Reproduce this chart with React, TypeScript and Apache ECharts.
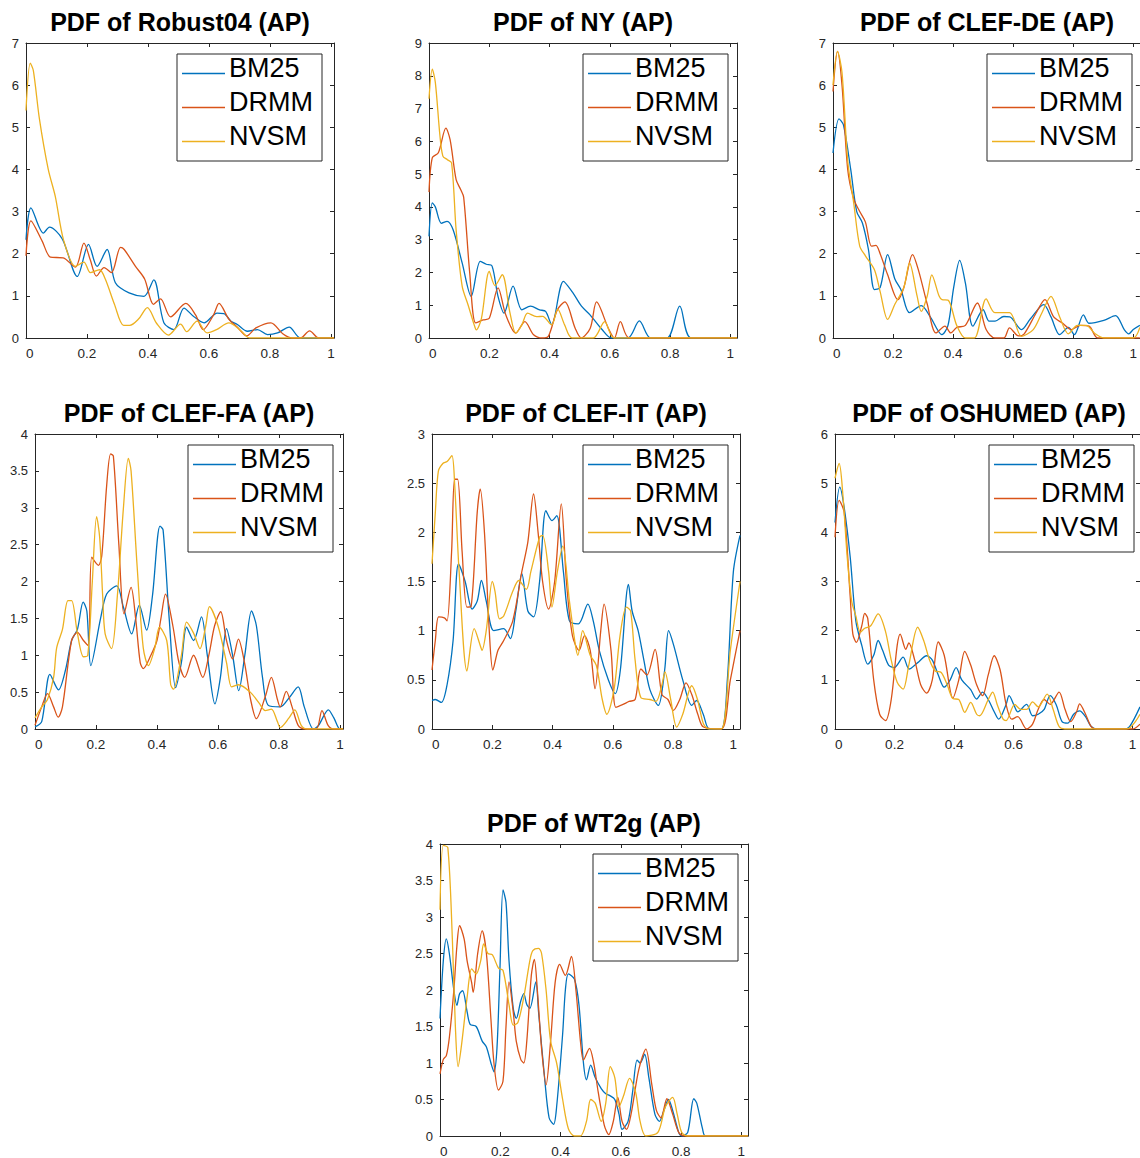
import React, { useEffect, useRef } from "react";
import * as echarts from "echarts";

type Pt = [number, number];

const seriesNames = ["BM25", "DRMM", "NVSM"];
const seriesColors = ["#0072BD", "#D95319", "#EDB120"];
const xTicks = [0, 0.2, 0.4, 0.6, 0.8, 1];

const titles = [
  "PDF of Robust04 (AP)",
  "PDF of NY (AP)",
  "PDF of CLEF-DE (AP)",
  "PDF of CLEF-FA (AP)",
  "PDF of CLEF-IT (AP)",
  "PDF of OSHUMED (AP)",
  "PDF of WT2g (AP)",
];
const xMaxes = [1.01, 1.022, 1.022, 1.01, 1.022, 1.025, 1.022];
const yMaxes = [7, 9, 7, 4, 3, 6, 4];
const yIntervals = [1, 1, 1, 0.5, 0.5, 1, 0.5];

// ---- Robust04
const robust04BM25: Pt[] = [[0,2.33],[0.016,3.09],[0.057,2.49],[0.077,2.63],[0.119,2.35],[0.168,1.46],[0.205,2.22],[0.233,1.7],[0.266,2.1],[0.293,1.31],[0.338,1.07],[0.387,0.99],[0.419,1.38],[0.452,0.36],[0.485,0.2],[0.518,0.71],[0.55,0.51],[0.584,0.36],[0.627,0.59],[0.649,0.58],[0.672,0.4],[0.693,0.32],[0.726,0.16],[0.759,0.2],[0.792,0.08],[0.825,0.12],[0.863,0.26],[0.9,0],[1.01,0]];
const robust04DRMM: Pt[] = [[0,1.95],[0.016,2.78],[0.053,2.3],[0.08,1.92],[0.122,1.9],[0.162,1.68],[0.19,2.25],[0.211,1.85],[0.231,1.47],[0.256,1.67],[0.28,1.55],[0.31,2.15],[0.322,2.1],[0.359,1.7],[0.389,1.4],[0.418,0.8],[0.441,0.93],[0.474,0.5],[0.524,0.82],[0.556,0.55],[0.581,0.2],[0.615,0.55],[0.633,0.82],[0.665,0.45],[0.694,0.25],[0.724,0.05],[0.754,0.24],[0.803,0.36],[0.842,0.1],[0.872,0],[0.9,0],[0.93,0.17],[0.96,0],[1.01,0]];
const robust04NVSM: Pt[] = [[0,5.4],[0.014,6.52],[0.024,6.35],[0.044,5.2],[0.073,4.0],[0.096,3.36],[0.123,2.33],[0.162,1.7],[0.19,1.8],[0.211,1.55],[0.241,1.62],[0.26,1.4],[0.29,0.8],[0.32,0.3],[0.34,0.3],[0.369,0.45],[0.398,0.72],[0.428,0.35],[0.467,0.07],[0.507,0.33],[0.527,0.15],[0.561,0.4],[0.594,0.12],[0.625,0.2],[0.665,0.36],[0.704,0.18],[0.734,0],[1.01,0]];

// ---- NY
const nyBM25: Pt[] = [[0,3.1],[0.011,4.12],[0.021,4.0],[0.041,3.5],[0.06,3.56],[0.08,3.3],[0.11,2.29],[0.14,1.27],[0.17,2.34],[0.19,2.25],[0.209,2.2],[0.229,1.27],[0.249,0.76],[0.279,1.58],[0.308,0.86],[0.337,0.97],[0.367,0.86],[0.387,0.81],[0.407,0.41],[0.446,1.73],[0.476,1.4],[0.506,0.97],[0.535,0.7],[0.575,0.25],[0.605,0],[0.66,0],[0.698,0.52],[0.735,0],[0.79,0],[0.832,0.97],[0.87,0],[1.022,0]];
const nyDRMM: Pt[] = [[0,4.45],[0.011,5.5],[0.031,5.65],[0.056,6.4],[0.07,6.05],[0.09,4.83],[0.105,4.53],[0.115,4.3],[0.135,2.0],[0.155,0.46],[0.18,0.55],[0.2,0.6],[0.229,1.53],[0.255,0.7],[0.288,0.15],[0.318,0.5],[0.347,0.1],[0.376,0],[0.396,0.05],[0.426,0.86],[0.451,1.1],[0.485,0.3],[0.505,0],[0.535,0.3],[0.556,1.1],[0.595,0.3],[0.615,0],[0.635,0.5],[0.665,0],[1.022,0]];
const nyNVSM: Pt[] = [[0,7.3],[0.011,8.2],[0.021,7.8],[0.036,6.2],[0.046,5.55],[0.061,5.44],[0.075,5.34],[0.09,3.3],[0.11,1.58],[0.13,1.0],[0.15,0.4],[0.157,0.25],[0.174,0.6],[0.2,2.03],[0.219,1.6],[0.243,1.93],[0.268,0.8],[0.288,0.15],[0.308,0.4],[0.327,0.76],[0.357,0.65],[0.377,0.66],[0.407,0.4],[0.427,0.88],[0.45,0.4],[0.475,0],[0.545,0],[0.583,0.5],[0.615,0],[1.022,0]];

// ---- CLEF-DE
const clefDeBM25: Pt[] = [[0,4.39],[0.02,5.2],[0.035,5.05],[0.059,4.0],[0.079,3.0],[0.098,2.73],[0.118,2.1],[0.138,1.15],[0.157,1.2],[0.182,1.98],[0.206,1.4],[0.226,1.15],[0.255,0.6],[0.294,0.77],[0.324,0.5],[0.363,0.08],[0.383,0.3],[0.402,1.2],[0.422,1.84],[0.441,1.3],[0.466,0.28],[0.5,0.67],[0.52,0.4],[0.54,0.4],[0.569,0.51],[0.589,0.5],[0.628,0.2],[0.657,0.45],[0.702,0.79],[0.726,0.5],[0.755,0.08],[0.784,0.25],[0.804,0.08],[0.834,0.55],[0.853,0.35],[0.902,0.42],[0.941,0.53],[0.97,0.2],[0.985,0.1],[1.0,0.2],[1.022,0.3]];
const clefDeDRMM: Pt[] = [[0,5.85],[0.015,6.8],[0.03,6.0],[0.049,4.0],[0.069,3.3],[0.089,3.0],[0.108,2.75],[0.128,2.18],[0.143,2.2],[0.157,2.0],[0.182,1.5],[0.216,0.91],[0.236,1.2],[0.265,1.98],[0.285,1.6],[0.314,0.8],[0.343,0.12],[0.373,0.28],[0.392,0.12],[0.412,0.25],[0.441,0.3],[0.481,0.83],[0.51,0.2],[0.539,0],[0.569,0],[0.588,0.24],[0.618,0.05],[0.637,0.1],[0.677,0.6],[0.706,0.91],[0.735,0.5],[0.765,0.35],[0.794,0.2],[0.824,0.3],[0.853,0.28],[0.882,0],[1.022,0]];
const clefDeNVSM: Pt[] = [[0,6.0],[0.015,6.8],[0.03,6.3],[0.049,4.2],[0.069,3.2],[0.089,2.18],[0.108,1.95],[0.138,1.62],[0.157,1.1],[0.182,0.44],[0.206,0.8],[0.236,1.2],[0.255,1.78],[0.28,1.0],[0.294,0.63],[0.314,1.0],[0.329,1.5],[0.353,1.0],[0.363,0.91],[0.383,0.9],[0.412,0.3],[0.441,0],[0.471,0],[0.51,0.93],[0.539,0.6],[0.588,0.6],[0.628,0.04],[0.667,0.2],[0.696,0.6],[0.726,0.99],[0.755,0.5],[0.784,0.1],[0.814,0.3],[0.843,0.3],[0.873,0.1],[0.902,0],[1.0,0],[1.022,0.25]];

// ---- CLEF-FA
const clefFaBM25: Pt[] = [[0,0.03],[0.022,0.1],[0.049,0.74],[0.077,0.53],[0.1,0.8],[0.12,1.2],[0.139,1.35],[0.158,1.72],[0.17,1.6],[0.183,0.86],[0.215,1.5],[0.235,1.83],[0.268,1.94],[0.29,1.65],[0.317,1.29],[0.342,1.68],[0.366,1.34],[0.385,1.8],[0.41,2.75],[0.42,2.7],[0.44,1.5],[0.461,0.56],[0.48,0.9],[0.497,1.38],[0.52,1.2],[0.546,1.52],[0.565,1.0],[0.59,0.34],[0.608,0.7],[0.628,1.36],[0.648,1.0],[0.668,0.52],[0.688,1.0],[0.71,1.6],[0.726,1.4],[0.746,0.7],[0.765,0.32],[0.804,0.3],[0.833,0.42],[0.863,0.57],[0.883,0.3],[0.913,0],[0.93,0.05],[0.962,0.26],[0.98,0.15],[1.0,0],[1.01,0]];
const clefFaDRMM: Pt[] = [[0,0.05],[0.022,0.3],[0.041,0.48],[0.061,0.3],[0.076,0.16],[0.09,0.3],[0.12,1.2],[0.139,1.31],[0.159,1.2],[0.175,1.13],[0.186,2.33],[0.208,2.22],[0.219,2.35],[0.235,3.3],[0.248,3.73],[0.257,3.7],[0.275,2.5],[0.292,1.56],[0.315,1.92],[0.33,1.5],[0.345,0.9],[0.355,0.82],[0.38,1.0],[0.4,1.2],[0.413,1.5],[0.428,1.83],[0.452,1.4],[0.472,0.9],[0.491,0.7],[0.52,1.0],[0.55,0.7],[0.57,1.0],[0.589,1.4],[0.609,1.59],[0.628,1.2],[0.648,0.95],[0.667,1.22],[0.687,0.9],[0.707,0.4],[0.726,0.14],[0.756,0.45],[0.775,0.7],[0.795,0.4],[0.804,0.3],[0.824,0.51],[0.843,0.3],[0.863,0.05],[0.883,0],[0.922,0],[0.941,0.25],[0.961,0.05],[0.98,0],[1.01,0]];
const clefFaNVSM: Pt[] = [[0,0.15],[0.022,0.3],[0.041,0.4],[0.061,0.7],[0.071,1.1],[0.09,1.35],[0.108,1.74],[0.12,1.74],[0.139,1.3],[0.159,0.98],[0.173,1.0],[0.188,2.0],[0.202,2.88],[0.212,2.6],[0.222,1.8],[0.23,1.29],[0.251,1.09],[0.27,1.8],[0.29,3.0],[0.306,3.67],[0.315,3.5],[0.335,2.2],[0.355,1.1],[0.372,0.86],[0.393,1.1],[0.408,1.38],[0.432,1.2],[0.445,0.6],[0.454,0.54],[0.48,1.0],[0.497,1.45],[0.52,1.3],[0.541,1.09],[0.56,1.4],[0.572,1.66],[0.6,1.4],[0.628,0.9],[0.645,0.57],[0.667,0.6],[0.706,0.5],[0.735,0.35],[0.755,0.25],[0.775,0.27],[0.795,0.1],[0.804,0.02],[0.833,0.15],[0.852,0.26],[0.873,0.05],[0.892,0],[1.01,0]];

// ---- CLEF-IT
const clefItBM25: Pt[] = [[0,0.29],[0.011,0.3],[0.031,0.27],[0.05,0.45],[0.07,0.9],[0.088,1.68],[0.11,1.5],[0.133,1.22],[0.15,1.3],[0.164,1.51],[0.18,1.3],[0.205,1.0],[0.238,1.02],[0.26,0.92],[0.278,1.2],[0.298,1.58],[0.318,1.2],[0.337,1.14],[0.357,1.5],[0.378,2.22],[0.398,2.12],[0.414,2.17],[0.436,1.6],[0.456,1.1],[0.486,1.07],[0.517,1.27],[0.535,1.1],[0.555,0.8],[0.585,0.5],[0.608,0.36],[0.625,0.6],[0.652,1.47],[0.664,1.2],[0.684,1.0],[0.703,0.7],[0.723,0.4],[0.751,0.24],[0.772,0.6],[0.785,1.0],[0.802,0.85],[0.832,0.5],[0.862,0.24],[0.878,0.29],[0.9,0.15],[0.92,0],[0.96,0],[0.98,0.5],[1.0,1.6],[1.022,1.97]];
const clefItDRMM: Pt[] = [[0,0.6],[0.011,0.9],[0.022,1.14],[0.041,1.13],[0.05,1.1],[0.065,1.8],[0.075,2.54],[0.085,2.54],[0.1,1.8],[0.116,1.24],[0.13,1.25],[0.15,2.2],[0.16,2.44],[0.174,2.0],[0.19,1.0],[0.202,0.6],[0.219,0.8],[0.238,0.9],[0.268,1.1],[0.298,1.6],[0.318,1.9],[0.337,2.39],[0.352,2.0],[0.367,1.5],[0.387,1.22],[0.407,1.5],[0.429,2.29],[0.446,1.5],[0.466,0.95],[0.488,0.8],[0.506,0.95],[0.525,0.8],[0.541,0.41],[0.56,1.0],[0.571,1.27],[0.594,0.8],[0.61,0.22],[0.634,0.25],[0.654,0.28],[0.674,0.3],[0.693,0.61],[0.713,0.55],[0.74,0.81],[0.763,0.35],[0.783,0.3],[0.801,0.19],[0.822,0.3],[0.843,0.47],[0.862,0.35],[0.882,0.15],[0.901,0.02],[0.96,0],[0.99,0.5],[1.022,1.0]];
const clefItNVSM: Pt[] = [[0,1.68],[0.011,2.2],[0.021,2.62],[0.036,2.7],[0.05,2.72],[0.066,2.78],[0.075,2.5],[0.09,1.6],[0.116,0.59],[0.14,1.02],[0.16,0.85],[0.166,0.8],[0.18,1.0],[0.2,1.5],[0.209,1.4],[0.224,1.12],[0.238,1.15],[0.268,1.4],[0.288,1.51],[0.313,1.42],[0.328,1.6],[0.357,1.95],[0.367,1.97],[0.387,1.6],[0.398,1.24],[0.416,1.6],[0.434,1.86],[0.456,1.3],[0.476,0.85],[0.484,0.75],[0.5,1.0],[0.525,0.75],[0.545,0.65],[0.565,0.3],[0.58,0.15],[0.604,0.4],[0.624,0.95],[0.645,1.24],[0.659,1.2],[0.674,0.7],[0.693,0.32],[0.723,0.3],[0.743,0.28],[0.763,0.45],[0.773,0.58],[0.792,0.3],[0.812,0.02],[0.832,0.15],[0.862,0.44],[0.881,0.3],[0.901,0.05],[0.92,0],[0.96,0],[0.99,0.8],[1.022,1.5]];

// ---- OSHUMED
const oshumedBM25: Pt[] = [[0,4.2],[0.016,4.92],[0.031,4.5],[0.051,3.5],[0.07,2.2],[0.09,1.7],[0.11,1.32],[0.13,1.5],[0.145,1.8],[0.16,1.6],[0.18,1.3],[0.199,1.25],[0.229,1.46],[0.249,1.22],[0.278,1.35],[0.308,1.49],[0.327,1.4],[0.347,1.1],[0.367,0.85],[0.387,1.0],[0.407,1.25],[0.426,1.0],[0.456,0.8],[0.476,0.61],[0.496,0.75],[0.515,0.6],[0.535,0.35],[0.55,0.2],[0.575,0.5],[0.585,0.68],[0.604,0.45],[0.614,0.35],[0.644,0.5],[0.664,0.27],[0.683,0.3],[0.703,0.4],[0.723,0.68],[0.743,0.5],[0.763,0.15],[0.782,0.12],[0.802,0.3],[0.822,0.37],[0.842,0.25],[0.861,0.05],[0.881,0],[0.97,0],[0.99,0.05],[1.025,0.45]];
const oshumedDRMM: Pt[] = [[0,3.9],[0.014,4.65],[0.031,4.4],[0.051,2.7],[0.06,1.93],[0.072,1.76],[0.09,2.1],[0.1,2.35],[0.11,2.25],[0.13,1.0],[0.15,0.3],[0.17,0.17],[0.189,0.6],[0.209,1.7],[0.219,1.93],[0.238,1.62],[0.248,1.75],[0.268,1.4],[0.288,0.9],[0.308,0.73],[0.327,1.0],[0.347,1.77],[0.367,1.5],[0.396,0.63],[0.416,1.0],[0.436,1.58],[0.456,1.3],[0.476,0.9],[0.496,0.68],[0.515,1.1],[0.535,1.49],[0.555,1.2],[0.575,0.5],[0.594,0.2],[0.614,0.25],[0.644,0],[0.664,0.1],[0.683,0.4],[0.703,0.6],[0.723,0.5],[0.753,0.75],[0.773,0.4],[0.792,0.15],[0.812,0.35],[0.822,0.51],[0.842,0.3],[0.861,0.05],[0.881,0],[1.0,0],[1.025,0.1]];
const oshumedNVSM: Pt[] = [[0,5.1],[0.014,5.4],[0.026,4.8],[0.041,3.5],[0.056,2.6],[0.07,2.3],[0.085,1.97],[0.1,2.05],[0.12,2.1],[0.145,2.34],[0.169,2.0],[0.189,1.4],[0.209,0.95],[0.229,0.81],[0.248,1.3],[0.278,2.07],[0.298,1.8],[0.318,1.4],[0.337,1.18],[0.357,1.15],[0.377,0.9],[0.396,0.62],[0.416,0.6],[0.436,0.34],[0.456,0.54],[0.476,0.3],[0.486,0.27],[0.515,0.6],[0.53,0.75],[0.545,0.5],[0.565,0.2],[0.575,0.17],[0.604,0.5],[0.624,0.4],[0.644,0.4],[0.664,0.55],[0.683,0.45],[0.713,0.71],[0.733,0.4],[0.753,0.05],[0.772,0],[0.98,0],[1.025,0.3]];

// ---- WT2g
const wt2gBM25: Pt[] = [[0,1.61],[0.011,2.4],[0.021,2.7],[0.031,2.5],[0.046,2.0],[0.056,1.79],[0.065,1.95],[0.075,1.99],[0.09,1.7],[0.1,1.53],[0.12,1.5],[0.14,1.3],[0.154,1.22],[0.169,1.0],[0.179,0.88],[0.189,1.2],[0.199,2.3],[0.209,3.37],[0.219,3.2],[0.229,2.4],[0.243,1.75],[0.253,1.61],[0.268,1.85],[0.278,1.95],[0.288,1.8],[0.298,1.75],[0.318,2.11],[0.327,1.7],[0.347,0.8],[0.362,0.25],[0.377,0.16],[0.387,0.4],[0.407,1.4],[0.416,2.0],[0.426,2.22],[0.446,2.15],[0.461,1.8],[0.476,1.0],[0.486,0.77],[0.5,0.97],[0.515,0.8],[0.535,0.65],[0.55,0.58],[0.565,0.55],[0.58,0.5],[0.594,0.3],[0.604,0.09],[0.624,0.2],[0.639,0.6],[0.654,1.04],[0.664,1.0],[0.679,1.12],[0.693,0.8],[0.713,0.3],[0.728,0.2],[0.743,0.35],[0.758,0.5],[0.772,0.35],[0.792,0.05],[0.802,0],[0.822,0.05],[0.842,0.51],[0.852,0.45],[0.871,0.1],[0.881,0],[1.022,0]];
const wt2gDRMM: Pt[] = [[0,0.85],[0.011,1.05],[0.021,1.1],[0.031,1.35],[0.046,2.0],[0.056,2.6],[0.065,2.88],[0.08,2.7],[0.09,2.4],[0.105,2.1],[0.11,1.97],[0.125,2.5],[0.14,2.81],[0.154,2.5],[0.169,1.6],[0.179,1.0],[0.194,0.63],[0.209,0.75],[0.219,1.5],[0.229,2.11],[0.243,1.7],[0.253,1.3],[0.268,1.05],[0.278,1.0],[0.288,1.3],[0.303,2.2],[0.313,2.42],[0.323,2.0],[0.337,1.2],[0.352,0.7],[0.367,1.3],[0.382,2.1],[0.397,2.35],[0.416,2.2],[0.436,2.46],[0.451,2.0],[0.466,1.3],[0.476,1.04],[0.496,1.2],[0.51,1.0],[0.525,0.6],[0.545,0.15],[0.56,0.02],[0.575,0.2],[0.59,0.53],[0.604,0.2],[0.619,0.09],[0.634,0.3],[0.659,0.9],[0.683,1.19],[0.703,0.7],[0.718,0.35],[0.733,0.25],[0.753,0.51],[0.772,0.3],[0.792,0.05],[0.812,0],[1.022,0]];
const wt2gNVSM: Pt[] = [[0,3.1],[0.011,3.98],[0.026,3.95],[0.041,2.7],[0.051,1.5],[0.06,0.95],[0.07,1.2],[0.09,1.9],[0.105,2.29],[0.12,2.22],[0.135,2.4],[0.145,2.63],[0.159,2.5],[0.174,2.48],[0.194,2.3],[0.209,2.27],[0.229,1.8],[0.243,1.52],[0.258,1.55],[0.278,1.9],[0.298,2.4],[0.308,2.54],[0.327,2.57],[0.337,2.5],[0.352,2.0],[0.367,1.3],[0.387,1.0],[0.407,0.5],[0.426,0.1],[0.446,0],[0.466,0],[0.486,0.2],[0.5,0.5],[0.515,0.45],[0.535,0.2],[0.55,0.45],[0.565,0.95],[0.58,0.8],[0.594,0.4],[0.609,0.55],[0.629,0.79],[0.649,0.6],[0.664,0.2],[0.683,0],[0.723,0.05],[0.748,0.4],[0.772,0.53],[0.787,0.3],[0.802,0.05],[0.822,0],[1.022,0]];

const panelData: Pt[][][] = [
  [robust04BM25, robust04DRMM, robust04NVSM],
  [nyBM25, nyDRMM, nyNVSM],
  [clefDeBM25, clefDeDRMM, clefDeNVSM],
  [clefFaBM25, clefFaDRMM, clefFaNVSM],
  [clefItBM25, clefItDRMM, clefItNVSM],
  [oshumedBM25, oshumedDRMM, oshumedNVSM],
  [wt2gBM25, wt2gDRMM, wt2gNVSM],
];

// layout (pixels)
const PLOT_W = 308;
const PLOT_H = 295;
const gridPos = [
  { left: 26, top: 43, lx: 177, ly: 54 },
  { left: 429, top: 43, lx: 583, ly: 54 },
  { left: 833, top: 43, lx: 987, ly: 54 },
  { left: 35, top: 434, lx: 188, ly: 445 },
  { left: 432, top: 434, lx: 583, ly: 445 },
  { left: 835, top: 434, lx: 989, ly: 445 },
  { left: 440, top: 844, lx: 593, ly: 854 },
];

const AXIS_COLOR = "#262626";
const FONT = "'Liberation Sans', Arial, Helvetica, sans-serif";

function buildOption() {
  const grid: any[] = [];
  const xAxis: any[] = [];
  const yAxis: any[] = [];
  const series: any[] = [];
  const title: any[] = [];
  const graphics: any[] = [];

  gridPos.forEach((g, i) => {
    grid.push({ left: g.left, top: g.top, width: PLOT_W, height: PLOT_H, containLabel: false });
    const lineStyle = { color: AXIS_COLOR, width: 1 };
    xAxis.push({
      type: "value", gridIndex: i, position: "bottom", min: 0, max: xMaxes[i],
      axisLine: { show: true, onZero: false, lineStyle },
      axisTick: { show: true, inside: true, length: 4, customValues: xTicks, lineStyle },
      axisLabel: {
        show: true, customValues: xTicks, color: AXIS_COLOR, fontSize: 13.5, fontFamily: FONT,
        margin: 8, alignMinLabel: "left",
        formatter: (v: number) => String(v),
      },
      splitLine: { show: false },
    });
    xAxis.push({
      type: "value", gridIndex: i, position: "top", min: 0, max: xMaxes[i],
      axisLine: { show: true, onZero: false, lineStyle },
      axisTick: { show: true, inside: true, length: 4, customValues: xTicks, lineStyle },
      axisLabel: { show: false },
      splitLine: { show: false },
    });
    yAxis.push({
      type: "value", gridIndex: i, position: "left", min: 0, max: yMaxes[i], interval: yIntervals[i],
      axisLine: { show: true, onZero: false, lineStyle },
      axisTick: { show: true, inside: true, length: 4, lineStyle },
      axisLabel: { show: true, color: AXIS_COLOR, fontSize: 13, fontFamily: FONT, margin: 7 },
      splitLine: { show: false },
    });
    yAxis.push({
      type: "value", gridIndex: i, position: "right", min: 0, max: yMaxes[i], interval: yIntervals[i],
      axisLine: { show: true, onZero: false, lineStyle },
      axisTick: { show: true, inside: true, length: 4, lineStyle },
      axisLabel: { show: false },
      splitLine: { show: false },
    });

    panelData[i].forEach((d, k) => {
      series.push({
        name: seriesNames[k],
        type: "line",
        xAxisIndex: 2 * i,
        yAxisIndex: 2 * i,
        data: d,
        symbol: "none",
        showSymbol: false,
        smooth: 0.3,
        clip: true,
        lineStyle: { color: seriesColors[k], width: 1.3 },
        itemStyle: { color: seriesColors[k] },
        z: 2 + k,
      });
    });

    title.push({
      text: titles[i],
      left: g.left + PLOT_W / 2,
      top: g.top - 34,
      textAlign: "center",
      padding: 0,
      textStyle: { fontSize: 25, fontWeight: "bold", color: "#000", fontFamily: FONT },
    });

    // legend box
    const children: any[] = [
      {
        type: "rect",
        shape: { x: 0, y: 0, width: 145, height: 107 },
        style: { fill: "#fff", stroke: AXIS_COLOR, lineWidth: 1 },
      },
    ];
    seriesNames.forEach((name, k) => {
      children.push({
        type: "line",
        shape: { x1: 5, y1: 19.5 + k * 34, x2: 48, y2: 19.5 + k * 34 },
        style: { stroke: seriesColors[k], lineWidth: 1.3 },
      });
      children.push({
        type: "text",
        x: 52,
        y: 13.5 + k * 34,
        style: {
          text: name, fill: "#000", fontSize: 27, fontFamily: FONT,
          align: "left", verticalAlign: "middle",
        },
      });
    });
    graphics.push({ type: "group", x: g.lx, y: g.ly, z: 100, children });
  });

  return {
    animation: false,
    backgroundColor: "#fff",
    title,
    grid,
    xAxis,
    yAxis,
    series,
    graphic: { elements: graphics },
  };
}

export default function App() {
  const ref = useRef<HTMLDivElement>(null);
  useEffect(() => {
    if (!ref.current) return;
    const chart = echarts.init(ref.current, undefined, { renderer: "svg" });
    chart.setOption(buildOption() as any);
    return () => chart.dispose();
  }, []);
  return (
    <div
      ref={ref}
      style={{ position: "fixed", left: 0, top: 0, width: 1140, height: 1158, background: "#fff" }}
    />
  );
}
